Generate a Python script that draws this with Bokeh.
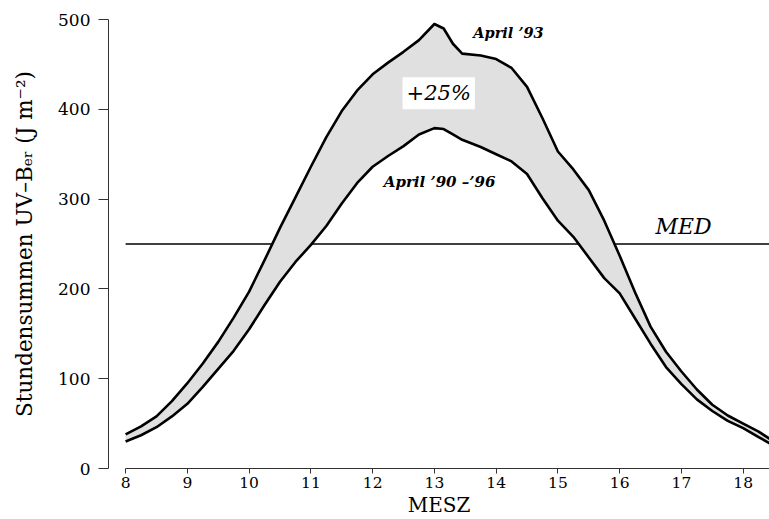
from bokeh.plotting import figure
from bokeh.models import Range1d, FixedTicker, Label
from bokeh.embed import file_html
from bokeh.resources import INLINE

# Hour of day (MESZ)
hours = [8.0, 8.25, 8.5, 8.75, 9.0, 9.25, 9.5, 9.75, 10.0, 10.25, 10.5, 10.75,
         11.0, 11.25, 11.5, 11.75, 12.0, 12.25, 12.5, 12.75, 13.0, 13.15, 13.3,
         13.45, 13.75, 14.0, 14.25, 14.5, 14.75, 15.0, 15.25, 15.5, 15.75, 16.0,
         16.25, 16.5, 16.75, 17.0, 17.25, 17.5, 17.75, 18.0, 18.25, 18.43]

# April '93 hourly sums (J m^-2)
april_93 = [38, 47, 58, 75, 95, 117, 141, 168, 197, 232, 268, 302,
            336, 369, 398, 421, 439, 452, 464, 477, 495, 490, 473,
            462, 460, 456, 446, 425, 390, 353, 333, 310, 276, 237,
            196, 158, 130, 108, 88, 71, 59, 50, 41, 33]

# April '90 - '96 mean hourly sums (J m^-2)
april_90_96 = [30, 37, 46, 58, 72, 91, 111, 131, 155, 182, 208, 230,
               249, 270, 295, 318, 336, 348, 359, 372, 379, 378, 372,
               366, 358, 350, 342, 328, 301, 276, 258, 235, 212, 195,
               167, 139, 113, 94, 77, 64, 53, 45, 35, 28]

med_value = 250
x_ticks = [8, 9, 10, 11, 12, 13, 14, 15, 16, 17, 18]
y_ticks = [0, 100, 200, 300, 400, 500]

FONT = "DejaVu Serif"

p = figure(width=769, height=519, output_backend="svg", toolbar_location=None,
           x_range=Range1d(7.723, 18.426), y_range=Range1d(0, 500),
           min_border_left=108, min_border_right=0, min_border_top=19,
           min_border_bottom=51)
p.outline_line_color = None
p.xgrid.visible = False
p.ygrid.visible = False
p.background_fill_color = "white"
p.border_fill_color = "white"

# MED line (under the band)
p.line(x=[x_ticks[0], 18.426], y=[med_value, med_value], line_color="black", line_width=1.3)

# band between curves
p.varea(x=hours, y1=april_90_96, y2=april_93, fill_color="#e0e0e0")

p.line(x=hours, y=april_93, line_color="black", line_width=2.6, line_join="round")
p.line(x=hours, y=april_90_96, line_color="black", line_width=2.6, line_join="round")

# axes
for ax in (p.xaxis[0], p.yaxis[0]):
    ax.axis_line_color = "#333333"
    ax.major_tick_line_color = "#333333"
    ax.minor_tick_line_color = None
    ax.major_tick_in = 0
    ax.major_label_text_font = FONT
    ax.major_label_text_color = "black"
    ax.axis_label_text_font = FONT
    ax.axis_label_text_font_style = "normal"
    ax.axis_label_text_color = "black"

p.xaxis.ticker = FixedTicker(ticks=x_ticks)
p.xaxis.bounds = (8, 18.426)
p.xaxis.major_tick_out = 5
p.xaxis.major_label_standoff = 3
p.xaxis.major_label_text_font_size = "15.5px"
p.xaxis.axis_label = "MESZ"
p.xaxis.axis_label_text_font_size = "20px"
p.xaxis.axis_label_standoff = 2

p.yaxis.ticker = FixedTicker(ticks=y_ticks)
p.yaxis.bounds = (0, 500)
p.yaxis.major_tick_out = 10
p.yaxis.major_label_standoff = 8
p.yaxis.major_label_text_font_size = "17px"
p.yaxis.axis_label = "Stundensummen UV\u2013B\u2091\u1d63 (J m\u207b\u00b2)"
p.yaxis.axis_label_text_font_size = "21.5px"
p.yaxis.axis_label_standoff = 18

# annotations
p.add_layout(Label(x=13.63, y=485, text="April \u201993", text_font=FONT,
                   text_font_style="bold italic", text_font_size="14.5px",
                   text_color="black", text_baseline="alphabetic"))
p.add_layout(Label(x=12.18, y=319, text="April \u201990 \u2013\u201996", text_font=FONT,
                   text_font_style="bold italic", text_font_size="15px",
                   text_color="black", text_baseline="alphabetic"))
p.add_layout(Label(x=13.07, y=418, text="+25%", text_font=FONT,
                   text_font_style="italic", text_font_size="21px",
                   text_color="black", text_align="center", text_baseline="alphabetic",
                   background_fill_color="white", background_fill_alpha=1.0,
                   padding=4))
p.add_layout(Label(x=16.58, y=270, text="MED", text_font=FONT,
                   text_font_style="italic", text_font_size="22px",
                   text_color="black", text_baseline="alphabetic"))

open("out.html", "w").write(file_html(p, INLINE))
